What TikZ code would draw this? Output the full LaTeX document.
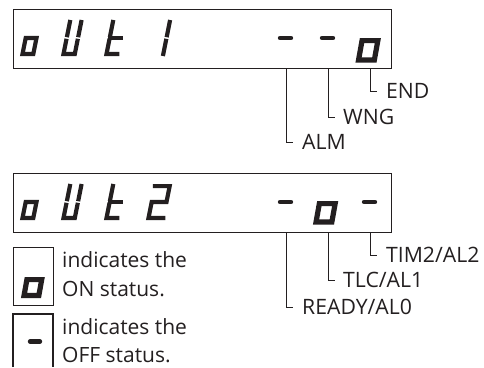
\documentclass[tikz,border=0pt]{standalone}
\usepackage{fontspec}
\setmainfont{Open Sans}
\definecolor{ink}{HTML}{231F20}
\tikzset{
  disp/.style={draw=ink, line width=1.1pt, inner sep=0pt, anchor=north west},
  boxl/.style={draw=ink, line width=1.1pt},
  lead/.style={draw=ink, line width=0.9pt},
  lbl/.style={inner sep=0pt, anchor=west, text height=15pt, text depth=0pt, text=ink, font=\fontsize{21.2}{25}\selectfont},
  txt/.style={inner sep=0pt, anchor=base west, text=ink, font=\fontsize{21}{25}\selectfont},
  segl/.style={draw=ink, line width=4.2pt, line join=miter, line cap=butt},
  bigl/.style={draw=ink, line width=5.2pt, line join=miter},
  dashseg/.style={draw=ink, line width=4.4pt, line cap=round}
}
% small seven-segment characters: #1 x, #2 y of cell bottom-left, #3 cell width
\newcommand\lcdO[3]{\begin{scope}[shift={(#1,#2)},xslant=0.2]
  \draw[segl] (2.1,-18) -- ({#3-2.1},-18) -- ({#3-2.1},-2.1) -- (2.1,-2.1) -- cycle;
\end{scope}}
\newcommand\lcdU[3]{\begin{scope}[shift={(#1,#2)},xslant=0.2]
  \draw[segl] (2.1,-36) -- (2.1,-18.8);
  \draw[segl] (2.1,-17.2) -- (2.1,-2.1) -- ({#3-2.1},-2.1) -- ({#3-2.1},-17.2);
  \draw[segl] ({#3-2.1},-18.8) -- ({#3-2.1},-36);
\end{scope}}
\newcommand\lcdT[3]{\begin{scope}[shift={(#1,#2)},xslant=0.2]
  \draw[segl] (2.1,-36) -- (2.1,-18.8);
  \draw[segl] (2.1,-17.2) -- (2.1,-2.1) -- (#3,-2.1);
  \draw[segl] (0,-18) -- (#3,-18);
\end{scope}}
\newcommand\lcdOne[3]{\begin{scope}[shift={(#1,#2)},xslant=0.2]
  \draw[segl] ({#3-2.1},-36) -- ({#3-2.1},-18.8);
  \draw[segl] ({#3-2.1},-17.2) -- ({#3-2.1},0);
\end{scope}}
\newcommand\lcdTwo[3]{\begin{scope}[shift={(#1,#2)},xslant=0.2]
  \draw[segl] (0,-33.9) -- ({#3-2.1},-33.9) -- ({#3-2.1},-18) -- (2.1,-18) -- (2.1,-2.1) -- (#3,-2.1);
\end{scope}}
% big "on" character: #1 x, #2 y bottom-left, #3 width, #4 height
\newcommand\lcdBig[4]{\begin{scope}[shift={(#1,#2)},xslant=0.18]
  \draw[bigl] (2.6,-2.6) rectangle ({#3-2.6},{-#4+2.6});
\end{scope}}
\begin{document}
\begin{tikzpicture}[x=1pt,y=-1pt]
\useasboundingbox (0,0) rectangle (484,367);

% ---------- display 1 ----------
\node[disp, minimum width=378pt, minimum height=59pt] (box1) at (13,9) {};
\lcdO{20}{56}{15}
\lcdU{61}{56}{15.5}
\lcdT{104}{56}{15}
\lcdOne{146}{56}{19}
\draw[dashseg] (280,38) -- (291,38);
\draw[dashseg] (322,38) -- (333,38);
\lcdBig{355.5}{62.5}{21}{24.5}

\coordinate (a1) at (286,68);
\coordinate (a2) at (328,68);
\coordinate (a3) at (370,68);
\node[lbl] (END) at (386,91) {END};
\node[lbl] (WNG) at (343,117) {WNG};
\node[lbl] (ALM) at (302,142) {ALM};
\draw[lead] (a3) |- ([xshift=-9pt]END.west);
\draw[lead] (a2) |- ([xshift=-8pt]WNG.west);
\draw[lead] (a1) |- ([xshift=-9pt]ALM.west);

% ---------- display 2 ----------
\node[disp, minimum width=378pt, minimum height=59pt] (box2) at (13,173) {};
\lcdO{20}{220}{15}
\lcdU{61}{220}{15.5}
\lcdT{104}{220}{15}
\lcdTwo{146}{220}{19}
\draw[dashseg] (280,202) -- (291,202);
\lcdBig{313}{224.5}{21}{23.5}
\draw[dashseg] (364,202) -- (375,202);

\coordinate (b1) at (286,232);
\coordinate (b2) at (328,232);
\coordinate (b3) at (370,232);
\node[lbl] (TIM) at (386,255) {TIM2/AL2};
\node[lbl] (TLC) at (343,280) {TLC/AL1};
\node[lbl] (RDY) at (302,307) {READY/AL0};
\draw[lead] (b3) |- ([xshift=-9pt]TIM.west);
\draw[lead] (b2) |- ([xshift=-8pt]TLC.west);
\draw[lead] (b1) |- ([xshift=-9pt]RDY.west);

% ---------- legend ----------
\node[disp, minimum width=40pt, minimum height=58pt] (lg1) at (13,247) {};
\lcdBig{21}{298}{20}{21}
\node[txt] (t1) at (62,267) {indicates the};
\node[txt] (t2) at (62,296) {ON status.};

\draw[boxl] (13,367) -- (13,314) -- (53,314) -- (53,367);
\draw[dashseg] (30,341.5) -- (40,341.5);
\node[txt] (t3) at (62,334) {indicates the};
\node[txt] (t4) at (62,362.5) {OFF status.};
\end{tikzpicture}
\end{document}
